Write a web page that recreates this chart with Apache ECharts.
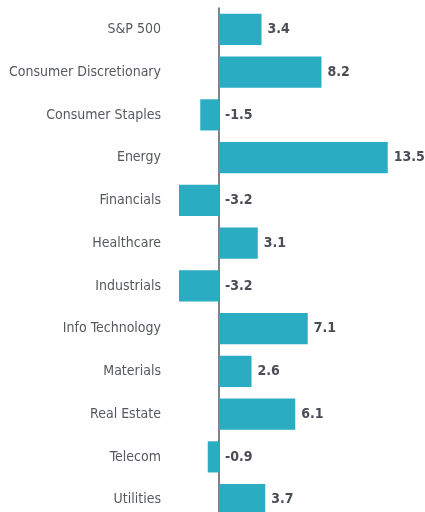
<!DOCTYPE html>
<html>
<head>
<meta charset="utf-8">
<script src="https://cdn.jsdelivr.net/npm/echarts@6/dist/echarts.min.js"></script>
<style>
  html, body { margin: 0; padding: 0; background: #fff; }
  #chart { width: 425px; height: 512px; }
</style>
</head>
<body>
<div id="chart"></div>
<script>
const sectors = [
  'S&P 500', 'Consumer Discretionary', 'Consumer Staples', 'Energy',
  'Financials', 'Healthcare', 'Industrials', 'Info Technology',
  'Materials', 'Real Estate', 'Telecom', 'Utilities'
];
const returns = [3.4, 8.2, -1.5, 13.5, -3.2, 3.1, -3.2, 7.1, 2.6, 6.1, -0.9, 3.7];

const font = '"Liberation Sans Narrow", "DejaVu Sans Condensed", sans-serif';

// zero sits at x=219, 12.5px per unit; labels end at x=161
const gridLeft = 166;
const pxPerUnit = 12.5;

const chart = echarts.init(document.getElementById('chart'));
chart.setOption({
  animation: false,
  grid: { left: gridLeft, right: 0, top: 8, height: 513, outerBoundsMode: 'none', containLabel: false },
  xAxis: {
    type: 'value',
    min: -(219 - gridLeft) / pxPerUnit,
    max: (425 - 219) / pxPerUnit,
    show: false,
  },
  yAxis: {
    type: 'category',
    inverse: true,
    data: sectors,
    axisLine: { onZero: true, lineStyle: { color: '#55585f', width: 1.5 } },
    axisTick: { show: false },
    splitLine: { show: false },
    axisLabel: {
      margin: 5,
      fontFamily: font,
      fontSize: 14,
      color: '#55585f',
    },
  },
  series: [
    {
      type: 'bar',
      data: returns,
      barCategoryGap: '27%',
      itemStyle: { color: '#2aacc3' },
      label: {
        show: true,
        position: 'right',
        distance: 6,
        fontFamily: font,
        fontSize: 14,
        fontWeight: 'bold',
        color: '#4a4d55',
        formatter: p => p.value.toFixed(1),
      },
    },
  ],
});
</script>
</body>
</html>
